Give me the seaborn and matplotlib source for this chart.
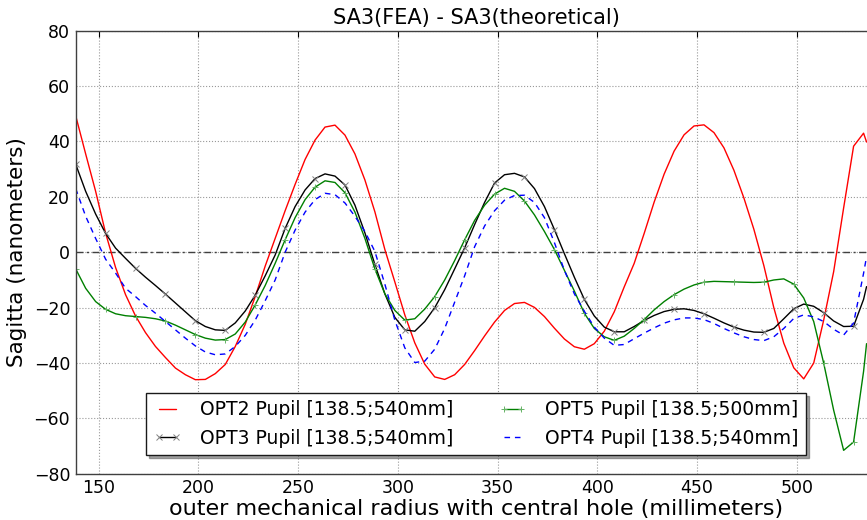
import matplotlib
matplotlib.use('Agg')
import matplotlib.pyplot as plt
import seaborn as sns
import pandas as pd

# sugár (mm) - a mintavételi pontok
radius = [138.5, 143.5, 148.5, 153.5, 158.5, 163.5, 168.5, 173.5, 178.5, 183.5,
          188.5, 193.5, 198.5, 203.5, 208.5, 213.5, 218.5, 223.5, 228.5, 233.5,
          238.5, 243.5, 248.5, 253.5, 258.5, 263.5, 268.5, 273.5, 278.5, 283.5,
          288.5, 293.5, 298.5, 303.5, 308.5, 313.5, 318.5, 323.5, 328.5, 333.5,
          338.5, 343.5, 348.5, 353.5, 358.5, 363.5, 368.5, 373.5, 378.5, 383.5,
          388.5, 393.5, 398.5, 403.5, 408.5, 413.5, 418.5, 423.5, 428.5, 433.5,
          438.5, 443.5, 448.5, 453.5, 458.5, 463.5, 468.5, 473.5, 478.5, 483.5,
          488.5, 493.5, 498.5, 503.5, 508.5, 513.5, 518.5, 523.5, 528.5, 533.5,
          535.0]

opt2 = [49.3, 35.5, 22.0, 6.9, -5.5, -15.3, -23.0, -29.0, -34.0, -38.0,
        -41.8, -44.2, -46.0, -45.9, -43.8, -40.5, -34.0, -26.0, -16.0, -5.0,
        5.0, 15.0, 24.5, 33.5, 40.5, 45.2, 45.9, 42.3, 35.5, 26.1,
        14.6, 1.0, -10.7, -22.6, -32.7, -40.4, -45.0, -45.9, -44.2, -40.5,
        -35.5, -30.2, -25.2, -21.0, -18.5, -18.1, -19.9, -23.2, -27.4, -31.3,
        -34.1, -35.0, -33.0, -28.5, -21.5, -12.5, -4.0, 6.8, 18.1, 28.2,
        36.5, 42.4, 45.6, 46.0, 43.2, 37.7, 29.6, 19.6, 8.3, -4.8,
        -20.0, -32.8, -41.7, -45.7, -40.0, -24.5, -7.0, 16.0, 38.3, 43.0,
        39.8]

opt3 = [31.8, 22.0, 13.8, 6.8, 1.5, -2.2, -5.8, -9.0, -12.0, -15.1,
        -18.3, -21.5, -24.7, -26.8, -28.0, -28.2, -25.5, -21.2, -15.5, -8.5,
        -1.0, 8.6, 16.5, 22.5, 26.6, 28.3, 27.5, 24.3, 17.0, 7.0,
        -4.4, -15.0, -23.5, -28.0, -28.5, -25.0, -20.0, -13.5, -6.0, 1.6,
        10.0, 18.0, 25.0, 28.0, 28.5, 27.2, 23.0, 16.5, 8.2, -0.5,
        -9.0, -17.0, -23.0, -27.0, -28.7, -28.7, -26.8, -24.6, -22.8, -21.4,
        -20.6, -20.4, -21.0, -22.2, -23.8, -25.5, -27.0, -28.1, -28.8, -28.9,
        -27.5, -24.0, -20.4, -18.7, -19.5, -21.8, -24.8, -26.8, -26.7, -17.0,
        -12.4]

opt5 = [-6.0, -13.0, -17.8, -20.6, -22.2, -22.9, -23.2, -23.5, -24.0, -24.8,
        -26.3, -28.0, -29.7, -31.0, -31.7, -31.5, -29.5, -25.2, -19.0, -12.0,
        -4.0, 4.5, 12.5, 19.0, 23.5, 25.8, 25.2, 21.5, 14.5, 5.0,
        -6.0, -15.0, -21.0, -24.5, -24.0, -20.5, -16.0, -10.0, -3.0, 4.5,
        11.5, 17.0, 21.0, 23.1, 22.0, 18.5, 13.5, 7.5, 1.0, -6.5,
        -14.0, -22.0, -27.5, -30.5, -31.8, -30.3, -27.5, -24.3, -20.8, -17.8,
        -15.3, -13.3, -11.8, -10.8, -10.5, -10.6, -10.7, -10.8, -10.9, -10.8,
        -10.0, -9.6, -11.5, -16.5, -25.0, -40.0, -57.0, -71.5, -68.5, -43.0,
        -33.0]

opt4 = [23.0, 13.0, 5.0, -2.5, -7.5, -13.0, -16.0, -19.2, -22.0, -25.0,
        -28.0, -31.0, -33.8, -36.0, -37.0, -36.7, -34.0, -30.0, -24.5, -17.5,
        -10.0, 0.0, 8.0, 14.5, 19.0, 21.3, 20.8, 17.8, 13.0, 7.5,
        0.3, -11.5, -24.5, -34.5, -39.8, -39.3, -35.0, -27.5, -18.0, -8.5,
        2.0, 9.5, 15.0, 18.8, 20.5, 20.6, 18.0, 12.5, 3.5, -6.5,
        -15.0, -21.3, -27.0, -31.0, -33.6, -33.3, -31.2, -29.2, -27.3, -25.6,
        -24.4, -23.7, -23.7, -24.3, -25.7, -27.5, -29.1, -30.5, -31.5, -31.9,
        -30.5, -27.5, -23.9, -22.6, -23.3, -25.0, -27.8, -29.9, -25.5, -7.6,
        -1.6]

adatok = pd.DataFrame({'radius': radius, 'OPT2': opt2, 'OPT3': opt3,
                       'OPT5': opt5, 'OPT4': opt4})

sns.set_style('white')
plt.rcParams['font.family'] = ['DejaVu Sans']
plt.rcParams['text.color'] = 'k'
plt.rcParams['axes.labelcolor'] = 'k'
plt.rcParams['xtick.color'] = 'k'
plt.rcParams['ytick.color'] = 'k'

fig = plt.figure(figsize=(8.67, 5.2), dpi=100)
ax = fig.add_axes([0.0873, 0.0887, 0.9237, 0.8523])

ax.axhline(0, color='0.25', ls=(0, (5, 2.5, 1.5, 2.5)), lw=1, zorder=1)

sns.lineplot(data=adatok, x='radius', y='OPT2', ax=ax, color='r', lw=1,
             estimator=None, sort=False, label='OPT2 Pupil [138.5;540mm]')
sns.lineplot(data=adatok, x='radius', y='OPT3', ax=ax, color='k', lw=1,
             marker='x', markevery=3, ms=4, mew=0.7, mec='0.5',
             estimator=None, sort=False, label='OPT3 Pupil [138.5;540mm]')
sns.lineplot(data=adatok, x='radius', y='OPT5', ax=ax, color='g', lw=1,
             marker='+', markevery=3, ms=5, mew=0.7, mec=(0.4, 0.7, 0.4),
             estimator=None, sort=False, label='OPT5 Pupil [138.5;500mm]')
sns.lineplot(data=adatok, x='radius', y='OPT4', ax=ax, color='b', lw=1,
             ls=(0, (4, 3.5)),
             estimator=None, sort=False, label='OPT4 Pupil [138.5;540mm]')

ax.set_xlim(138.5, 540)
ax.set_ylim(-80, 80)
ax.set_xticks([150, 200, 250, 300, 350, 400, 450, 500])
ax.set_yticks([-80, -60, -40, -20, 0, 20, 40, 60, 80])
ax.grid(True, color='0.6', ls=':', lw=0.8)
ax.set_axisbelow(True)
ax.tick_params(direction='in', length=4, labelsize=12.5, pad=4,
               top=True, right=True)
for s in ax.spines.values():
    s.set_color('0.25')
    s.set_linewidth(1)

ax.set_title('SA3(FEA) - SA3(theoretical)', fontsize=15, pad=5)
ax.set_xlabel('outer mechanical radius with central hole (millimeters)',
              fontsize=16, labelpad=1)
ax.set_ylabel('Sagitta (nanometers)', fontsize=15.5, labelpad=5)

leg = ax.legend(loc='lower center', ncol=2, fontsize=13.5, shadow=True,
                fancybox=False, numpoints=2, handlelength=1.5,
                handletextpad=1.0, columnspacing=2.4, borderaxespad=1.0,
                framealpha=1, edgecolor='0.1')
leg.get_frame().set_linewidth(1)

fig.savefig('out.png', dpi=100)
